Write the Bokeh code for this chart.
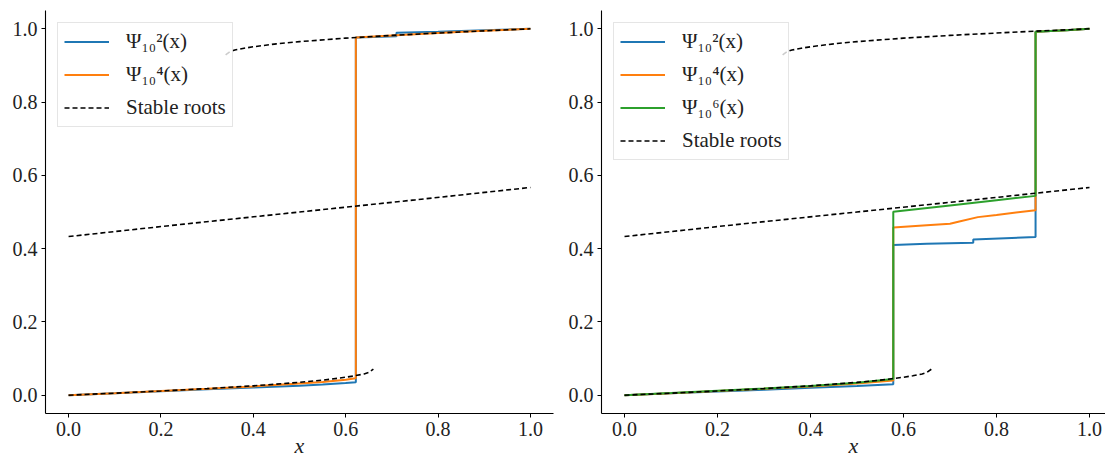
from bokeh.plotting import figure
from bokeh.layouts import row
from bokeh.models import Legend, LegendItem, FixedTicker, Range1d
from bokeh.embed import file_html
from bokeh.resources import INLINE

# ---- data ----
# stable roots: lower, middle, upper branches
low_x = [0, 0.1, 0.2, 0.3, 0.4, 0.5, 0.55, 0.6, 0.62, 0.64, 0.65, 0.66]
low_y = [0, 0.0055, 0.0115, 0.018, 0.0255, 0.035, 0.041, 0.049, 0.053, 0.058, 0.062, 0.071]
mid_x = [0, 0.25, 0.5, 0.75, 1.0]
mid_y = [0.433, 0.467, 0.5, 0.533, 0.567]
up_x = [0.34, 0.35, 0.36, 0.38, 0.4, 0.45, 0.5, 0.6, 0.7, 0.8, 0.9, 1.0]
up_y = [0.929, 0.938, 0.942, 0.947, 0.951, 0.959, 0.965, 0.9745, 0.982, 0.9885, 0.9945, 1.0]

# left panel
L_psi2_x = [0, 0.1, 0.2, 0.3, 0.4, 0.5, 0.55, 0.6, 0.622, 0.622, 0.66, 0.71, 0.71, 0.8, 0.9, 1.0]
L_psi2_y = [0, 0.005, 0.011, 0.016, 0.021, 0.026, 0.029, 0.033, 0.035, 0.976, 0.978, 0.980, 0.989, 0.992, 0.996, 1.0]
L_psi4_x = [0, 0.1, 0.2, 0.3, 0.4, 0.5, 0.55, 0.6, 0.622, 0.622, 0.7, 0.8, 0.9, 1.0]
L_psi4_y = [0, 0.0055, 0.0115, 0.0175, 0.024, 0.032, 0.036, 0.042, 0.046, 0.976, 0.982, 0.9885, 0.9945, 1.0]

# right panel
R_psi2_x = [0, 0.1, 0.2, 0.3, 0.4, 0.5, 0.578, 0.578, 0.65, 0.75, 0.75, 0.884, 0.884, 0.95, 1.0]
R_psi2_y = [0, 0.005, 0.01, 0.015, 0.02, 0.025, 0.03, 0.41, 0.413, 0.416, 0.425, 0.432, 0.992, 0.996, 1.0]
R_psi4_x = [0, 0.1, 0.2, 0.3, 0.4, 0.5, 0.578, 0.578, 0.65, 0.7, 0.72, 0.76, 0.8, 0.884, 0.884, 0.95, 1.0]
R_psi4_y = [0, 0.0055, 0.0115, 0.0175, 0.024, 0.032, 0.04, 0.458, 0.464, 0.468, 0.474, 0.486, 0.492, 0.505, 0.992, 0.996, 1.0]
R_psi6_x = [0, 0.1, 0.2, 0.3, 0.4, 0.5, 0.578, 0.578, 0.7, 0.8, 0.884, 0.884, 0.95, 1.0]
R_psi6_y = [0, 0.0058, 0.012, 0.018, 0.025, 0.034, 0.044, 0.501, 0.518, 0.532, 0.544, 0.992, 0.996, 1.0]

ticks = [0.0, 0.2, 0.4, 0.6, 0.8, 1.0]
tick_labels = ["0.0", "0.2", "0.4", "0.6", "0.8", "1.0"]
labels_left = ["\u03a8\u2081\u2080\u00b2(x)", "\u03a8\u2081\u2080\u2074(x)", "Stable roots"]
labels_right = ["\u03a8\u2081\u2080\u00b2(x)", "\u03a8\u2081\u2080\u2074(x)", "\u03a8\u2081\u2080\u2076(x)", "Stable roots"]
x_label = "x"
colors = ["#1f77b4", "#ff7f0e", "#2ca02c"]

FONT = "Liberation Serif"
overrides = {t: s for t, s in zip(ticks, tick_labels)}


def make_fig(width, bl, br, xs, xe):
    p = figure(width=width, height=462, x_range=Range1d(xs, xe), y_range=Range1d(-0.05, 1.05),
               output_backend="svg", toolbar_location=None,
               min_border_left=bl, min_border_right=br, min_border_top=10, min_border_bottom=49)
    p.outline_line_color = None
    p.grid.visible = False
    p.background_fill_color = "white"
    for ax in (p.xaxis[0], p.yaxis[0]):
        ax.ticker = FixedTicker(ticks=ticks)
        ax.major_label_overrides = overrides
        ax.major_tick_out = 4
        ax.major_tick_in = 0
        ax.minor_tick_out = 0
        ax.minor_tick_in = 0
        ax.axis_line_color = "black"
        ax.axis_line_width = 1.1
        ax.major_tick_line_color = "black"
        ax.major_label_text_font = FONT
        ax.major_label_text_font_size = "20px"
        ax.major_label_text_color = "#222222"
        ax.major_label_standoff = 4
    xa = p.xaxis[0]
    xa.axis_label = x_label
    xa.axis_label_text_font = FONT
    xa.axis_label_text_font_style = "italic"
    xa.axis_label_text_font_size = "22px"
    xa.axis_label_text_color = "#222222"
    xa.axis_label_standoff = -6
    return p


def add_roots(p):
    rs = []
    for xx, yy in ((low_x, low_y), (mid_x, mid_y), (up_x, up_y)):
        rs.append(p.line(xx, yy, line_color="black", line_width=1.6, line_dash="5 3"))
    return rs


def style_legend(p, items):
    lg = Legend(items=items, location="top_left")
    lg.label_text_font = FONT
    lg.label_text_font_size = "21px"
    lg.label_text_color = "#222222"
    lg.border_line_color = "#cccccc"
    lg.border_line_width = 1
    lg.background_fill_alpha = 0.8
    lg.glyph_width = 45
    lg.glyph_height = 23
    lg.label_height = 23
    lg.label_standoff = 17
    lg.spacing = 8
    lg.padding = 6
    lg.margin = 12
    p.add_layout(lg)


# left panel
p1 = make_fig(560, 45, 7, -0.05, 1.05)
r1 = p1.line(L_psi2_x, L_psi2_y, line_color=colors[0], line_width=2)
r2 = p1.line(L_psi4_x, L_psi4_y, line_color=colors[1], line_width=2)
rr = add_roots(p1)
style_legend(p1, [LegendItem(label=labels_left[0], renderers=[r1]),
                  LegendItem(label=labels_left[1], renderers=[r2]),
                  LegendItem(label=labels_left[2], renderers=[rr[0]])])

# right panel
p2 = make_fig(545, 41, 0, -0.0495, 1.0344)
s1 = p2.line(R_psi2_x, R_psi2_y, line_color=colors[0], line_width=2)
s2 = p2.line(R_psi4_x, R_psi4_y, line_color=colors[1], line_width=2)
s3 = p2.line(R_psi6_x, R_psi6_y, line_color=colors[2], line_width=2)
rr2 = add_roots(p2)
style_legend(p2, [LegendItem(label=labels_right[0], renderers=[s1]),
                  LegendItem(label=labels_right[1], renderers=[s2]),
                  LegendItem(label=labels_right[2], renderers=[s3]),
                  LegendItem(label=labels_right[3], renderers=[rr2[0]])])

layout = row(p1, p2)
open("out.html", "w").write(file_html(layout, INLINE))
